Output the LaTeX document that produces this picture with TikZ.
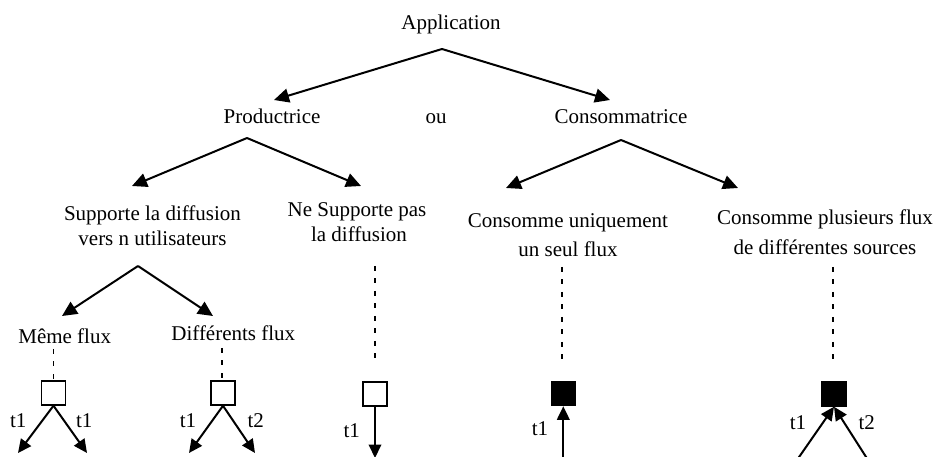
\documentclass[tikz,border=0pt]{standalone}
\usepackage{fontspec}
\setmainfont{Liberation Serif}
\usetikzlibrary{arrows.meta}
\begin{document}
\begin{tikzpicture}[x=1pt,y=-1pt,
  lbl/.style={anchor=base,inner sep=0pt,font=\fontsize{21}{25}\selectfont},
  arr/.style={line width=2pt,-{Triangle[length=15pt,width=14pt]}},
  flow/.style={line width=2pt,-{Triangle[length=13.5pt,width=12.5pt]}},
  lnk/.style={line width=1.5pt,dash pattern=on 5pt off 7.5pt},
  emitbox/.style={draw,line width=1.5pt,minimum size=24pt,inner sep=0pt,fill=white},
  recvbox/.style={draw,line width=1.5pt,minimum size=24pt,inner sep=0pt,fill=black}]
\useasboundingbox (0,0) rectangle (938,457);

% labels
\node[lbl] (app) at (451,29.3) {Application};
\node[lbl] (prod) at (272,124) {Productrice};
\node[lbl] (ou) at (436,124) {ou};
\node[lbl] (cons) at (621,124) {Consommatrice};
\node[lbl] (sup1) at (152.5,221) {Supporte la diffusion};
\node[lbl] (sup2) at (152.5,246) {vers n utilisateurs};
\node[lbl] (nsup1) at (357,216.5) {Ne Supporte pas};
\node[lbl] (nsup2) at (359,241.5) {la diffusion};
\node[lbl] (uniq1) at (568,228) {Consomme uniquement};
\node[lbl] (uniq2) at (568,257) {un seul flux};
\node[lbl] (plus1) at (825,224.5) {Consomme plusieurs flux};
\node[lbl] (plus2) at (825,255) {de différentes sources};
\node[lbl] (meme) at (64.7,343.3) {Même flux};
\node[lbl] (diff) at (233.3,341) {Différents flux};

% tree branches
\coordinate (aA) at (442,49);
\coordinate (aP) at (247,138);
\coordinate (aC) at (621,140);
\coordinate (aS) at (138,266);
\coordinate (tP) at (274,100);
\coordinate (tC) at (610,100);
\coordinate (tS) at (132,186);
\coordinate (tN) at (361,186);
\coordinate (tU) at (506,188);
\coordinate (tM) at (738,188);
\coordinate (tMe) at (62,316);
\coordinate (tDi) at (213,316);
\draw[arr] (aA) -- (tP);
\draw[arr] (aA) -- (tC);
\draw[arr] (aP) -- (tS);
\draw[arr] (aP) -- (tN);
\draw[arr] (aC) -- (tU);
\draw[arr] (aC) -- (tM);
\draw[arr] (aS) -- (tMe);
\draw[arr] (aS) -- (tDi);

% boxes
\node[emitbox] (b1) at (53.5,393) {};
\node[emitbox] (b2) at (223,393) {};
\node[emitbox] (b3) at (375,394) {};
\node[recvbox] (b4) at (563.3,393.5) {};
\node[recvbox] (b5) at (834,394) {};

% dashed links
\coordinate (d1) at (53.5,349);
\coordinate (d2) at (222,348);
\coordinate (d3) at (375,266);
\coordinate (d4) at (562,267);
\coordinate (d5) at (833,267);
\draw[lnk] (d1) -- (d1 |- b1.north);
\draw[lnk] (d2) -- (d2 |- b2.north);
\draw[lnk] (d3) -- (375,360);
\draw[lnk] (d4) -- (562,360);
\draw[lnk] (d5) -- (833,360);

% flows
\coordinate (f1a) at (18,453);
\coordinate (f1b) at (87,453);
\coordinate (f2a) at (189,453);
\coordinate (f2b) at (255,453);
\coordinate (f3) at (375,458);
\coordinate (f4) at (563.3,460);
\coordinate (f5a) at (797,460);
\coordinate (f5b) at (868,460);
\draw[flow] (b1.south) -- (f1a);
\draw[flow] (b1.south) -- (f1b);
\draw[flow] (b2.south) -- (f2a);
\draw[flow] (b2.south) -- (f2b);
\draw[flow] (b3.south) -- (f3);
\draw[flow] (f4) -- (b4.south);
\draw[flow] (f5a) -- (b5.south);
\draw[flow] (f5b) -- (b5.south);

% flow labels
\node[lbl] (l1a) at (18.3,427) {t1};
\node[lbl] (l1b) at (84.3,427) {t1};
\node[lbl] (l2a) at (188,427) {t1};
\node[lbl] (l2b) at (255.7,427) {t2};
\node[lbl] (l3) at (351.7,437) {t1};
\node[lbl] (l4) at (540,435) {t1};
\node[lbl] (l5a) at (798,429) {t1};
\node[lbl] (l5b) at (866.7,429) {t2};
\end{tikzpicture}
\end{document}
